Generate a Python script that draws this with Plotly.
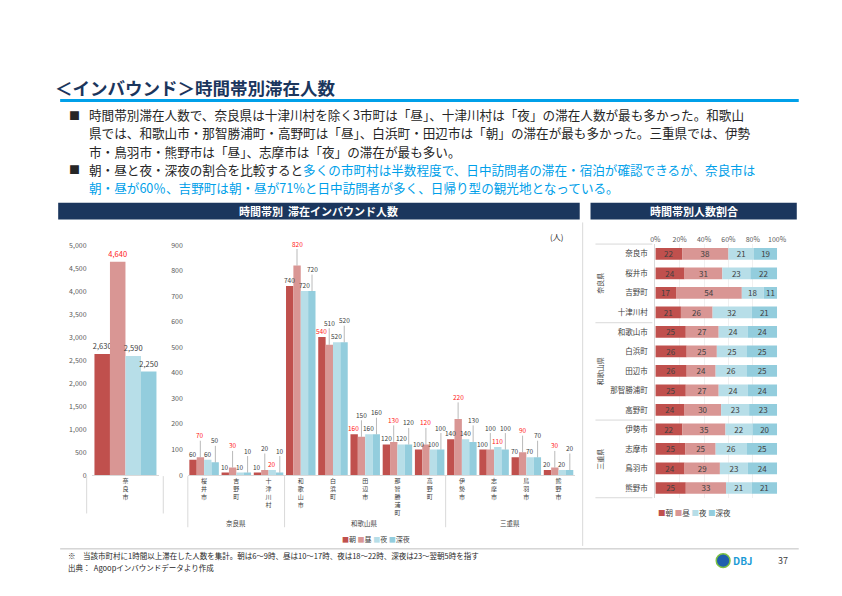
import plotly.graph_objects as go

W, H = 842, 596
FONT = 'Noto Sans CJK JP'

bands = ['朝', '昼', '夜', '深夜']
colors = ['#c0504d', '#d99694', '#b7dee8', '#93cddd']

# 奈良市 (own scale, left panel)
nara_city = ['奈良市']
nara_asa = [2630]
nara_hiru = [4640]
nara_yoru = [2590]
nara_shinya = [2250]
nara_peak = ['昼']

# other towns (middle panel)
towns = ['桜井市', '吉野町', '十津川村', '和歌山市', '白浜町', '田辺市',
         '那智勝浦町', '高野町', '伊勢市', '志摩市', '鳥羽市', '熊野市']
town_asa = [60, 10, 10, 740, 540, 160, 120, 100, 140, 100, 70, 20]
town_hiru = [70, 30, 20, 820, 510, 150, 130, 120, 220, 100, 90, 30]
town_yoru = [60, 10, 20, 720, 520, 160, 120, 100, 140, 110, 70, 20]
town_shinya = [50, 10, 10, 720, 520, 160, 120, 100, 130, 100, 70, 20]
town_peak = ['昼', '昼', '夜', '昼', '朝', '朝', '昼', '昼', '昼', '夜', '昼', '昼']

# share by time band (right panel), %
ratio_cities = ['奈良市', '桜井市', '吉野町', '十津川村', '和歌山市', '白浜町', '田辺市',
                '那智勝浦町', '高野町', '伊勢市', '志摩市', '鳥羽市', '熊野市']
ratio_asa = [22, 24, 17, 21, 25, 26, 26, 25, 24, 22, 25, 24, 25]
ratio_hiru = [38, 31, 54, 26, 27, 25, 24, 27, 30, 35, 25, 29, 33]
ratio_yoru = [21, 23, 18, 32, 24, 25, 26, 24, 23, 22, 26, 23, 21]
ratio_shinya = [19, 22, 11, 21, 24, 25, 25, 24, 23, 20, 25, 24, 21]

RED = '#ff2020'
DARK = '#404040'


def px(x):
    return x / W


def py(y):
    return 1 - y / H


def vert(s):
    return '<br>'.join(s)


fig = go.Figure()

# left panel: 奈良市
nara_series = [nara_asa, nara_hiru, nara_yoru, nara_shinya]
for i, b in enumerate(bands):
    fig.add_trace(go.Bar(
        x=[vert(c) for c in nara_city], y=nara_series[i], xaxis='x', yaxis='y',
        marker=dict(color=colors[i], line=dict(width=0)),
        text=[f'{v:,}' for v in nara_series[i]], textposition='outside',
        textfont=dict(size=7.5, color=[RED if p == b else DARK for p in nara_peak]),
        constraintext='none', cliponaxis=False, showlegend=False, name=b))

# middle panel
town_series = [town_asa, town_hiru, town_yoru, town_shinya]
for i, b in enumerate(bands):
    fig.add_trace(go.Bar(
        x=[vert(c) for c in towns], y=town_series[i], xaxis='x2', yaxis='y2',
        marker=dict(color=colors[i], line=dict(width=0)),
        showlegend=False, name=b))

# right panel: stacked 100% bars
ratio_series = [ratio_asa, ratio_hiru, ratio_yoru, ratio_shinya]
totals = [sum(v) for v in zip(*ratio_series)]
base = [0.0] * len(ratio_cities)
for i, b in enumerate(bands):
    pct = [v / t * 100 for v, t in zip(ratio_series[i], totals)]
    fig.add_trace(go.Bar(
        y=ratio_cities, x=pct, base=list(base), orientation='h',
        xaxis='x3', yaxis='y3', width=0.6, offset=-0.3,
        marker=dict(color=colors[i], line=dict(width=0)),
        text=[str(v) for v in ratio_series[i]], textposition='inside',
        insidetextanchor='middle', constraintext='none', textangle=0,
        textfont=dict(size=8, color=DARK), showlegend=False, name=b))
    base = [a + p for a, p in zip(base, pct)]

tick_font = dict(size=7, color='#595959', family=FONT)

fig.update_layout(
    width=W, height=H, margin=dict(l=0, r=0, t=0, b=0),
    paper_bgcolor='white', plot_bgcolor='white',
    font=dict(family=FONT, color=DARK),
    barmode='group', bargap=0.085, bargroupgap=0,
    xaxis=dict(domain=[px(80), px(149)], anchor='y', showline=True, linecolor='#d9d9d9',
               ticks='', tickfont=dict(size=6, color=DARK), fixedrange=True),
    yaxis=dict(domain=[py(469), py(235)], anchor='x', range=[0, 5000], dtick=500,
               tickformat=',d', showgrid=False, zeroline=False, tickfont=tick_font,
               ticklabelstandoff=4),
    xaxis2=dict(domain=[px(178), px(572)], anchor='y2', showline=True, linecolor='#d9d9d9',
                ticks='', tickfont=dict(size=6, color=DARK)),
    yaxis2=dict(domain=[py(469), py(235)], anchor='x2', range=[0, 900], dtick=100,
                showgrid=False, zeroline=False, tickfont=tick_font, ticklabelstandoff=4),
    xaxis3=dict(domain=[px(654), px(778)], anchor='y3', side='top', range=[0, 100],
                dtick=20, ticksuffix='%', showgrid=True, gridcolor='#f0f0f0',
                zeroline=False, tickfont=dict(size=7, color='#595959')),
    yaxis3=dict(domain=[py(492), py(234)], anchor='x3', autorange='reversed',
                showline=True, linecolor='#d9d9d9', ticks='',
                tickfont=dict(size=7.5, color=DARK), ticklabelstandoff=5),
)

shapes = []
ann = []

# middle panel value labels, every other band lifted with a leader line
bar_px = (572 - 178) / len(towns) * (1 - 0.085) / len(bands)
for i, b in enumerate(bands):
    for j, t in enumerate(towns):
        v = town_series[i][j]
        col = RED if town_peak[j] == b else DARK
        a = dict(xref='x2', yref='y2', x=vert(t), y=v, text=str(v), borderpad=0,
                 xshift=(i - 1.5) * bar_px, font=dict(size=6.5, color=col, family=FONT))
        if i % 2 == 1:
            a.update(showarrow=True, arrowhead=0, arrowwidth=0.6, arrowcolor='#8c8c8c',
                     ax=0, ay=-22, standoff=0)
        else:
            a.update(showarrow=False, yanchor='bottom', yshift=0)
        ann.append(a)


def line(x0, y0, x1, y1, color='#d9d9d9', width=1):
    shapes.append(dict(type='line', xref='paper', yref='paper',
                       x0=px(x0), y0=py(y0), x1=px(x1), y1=py(y1),
                       line=dict(color=color, width=width)))


def text(x, y, s, size=8, color=DARK, xanchor='left', **kw):
    ann.append(dict(xref='paper', yref='paper', x=px(x), y=py(y), text=s,
                    showarrow=False, xanchor=xanchor, yanchor='middle', borderpad=0,
                    font=dict(size=size, color=color, family=FONT), **kw))


# title
text(42, 75, '<b>＜インバウンド＞時間帯別滞在人数</b>', size=17.5, color='#1b365d')
line(48, 88, 800, 88, color='#00a0e9', width=3)

# bullet text
blue = '#00a0e9'
text(56, 102.5, '■', size=11, color='#262626')
text(56, 158, '■', size=11, color='#262626')
text(76, 102.5, '時間帯別滞在人数で、奈良県は十津川村を除く3市町は「昼」、十津川村は「夜」の滞在人数が最も多かった。和歌山', size=12.6, color='#262626')
text(76, 121, '県では、和歌山市・那智勝浦町・高野町は「昼」、白浜町・田辺市は「朝」の滞在が最も多かった。三重県では、伊勢', size=12.6, color='#262626')
text(76, 139.5, '市・鳥羽市・熊野市は「昼」、志摩市は「夜」の滞在が最も多い。', size=12.6, color='#262626')
text(76, 158, '朝・昼と夜・深夜の割合を比較すると<span style="color:%s">多くの市町村は半数程度で、日中訪問者の滞在・宿泊が確認できるが、奈良市は</span>' % blue, size=12.6, color='#262626')
text(76, 176.5, '朝・昼が60％、吉野町は朝・昼が71%と日中訪問者が多く、日帰り型の観光地となっている。', size=12.6, color=blue)

# panel headers
shapes.append(dict(type='rect', xref='paper', yref='paper', x0=px(46), x1=px(577),
                   y0=py(209), y1=py(192), fillcolor='#1b365d', line=dict(width=0)))
shapes.append(dict(type='rect', xref='paper', yref='paper', x0=px(588), x1=px(798),
                   y0=py(209), y1=py(192), fillcolor='#1b365d', line=dict(width=0)))
text(311, 200.5, '<b>時間帯別  滞在インバウンド人数</b>', size=11, color='white', xanchor='center')
text(693, 200.5, '<b>時間帯別人数割合</b>', size=11, color='white', xanchor='center')
text(553, 226, '(人)', size=8, color='#262626', xanchor='center')

# category frame lines (left / middle)
line(75, 470, 75, 508)
line(153, 470, 153, 508)
for x in [178, 276.5, 440.5]:
    line(x, 470, x, 522)
line(580, 212, 580, 541)

# group labels (middle)
text(227, 518, '奈良県', size=6.5, xanchor='center')
text(358, 518, '和歌山県', size=6.5, xanchor='center')
text(506, 518, '三重県', size=6.5, xanchor='center')


# legends
def legend_html():
    return '&nbsp;'.join('<span style="color:%s">■</span>%s' % (c, b) for c, b in zip(colors, bands))


text(370, 534, legend_html(), size=7, xanchor='center')
text(694, 507, legend_html(), size=7.5, xanchor='center')

# right panel group lines and labels
for y in [234, 314, 413, 492]:
    line(593, y, 651, y)
text(598, 274, '奈良県', size=7, xanchor='center', textangle=-90)
text(598, 363, '和歌山県', size=7, xanchor='center', textangle=-90)
text(598, 453, '三重県', size=7, xanchor='center', textangle=-90)

# footer
line(48, 544, 800, 544, color='#bfbfbf')
text(55, 551, '※　当該市町村に1時間以上滞在した人数を集計。朝は6～9時、昼は10～17時、夜は18～22時、深夜は23～翌朝5時を指す', size=7.5, color='#262626')
text(55, 563, '出典：  Agoopインバウンドデータより作成', size=7.5, color='#262626')
shapes.append(dict(type='circle', xref='paper', yref='paper', x0=px(716), x1=px(730),
                   y0=py(563), y1=py(549), fillcolor='#1f5fae', line=dict(color='#7cc242', width=1.5)))
text(732, 556, '<b>DBJ</b>', size=10, color='#1a9ad6')
text(784, 556, '37', size=9, color=DARK, xanchor='center')

fig.update_layout(shapes=shapes, annotations=ann)

fig.write_html('out.html')
